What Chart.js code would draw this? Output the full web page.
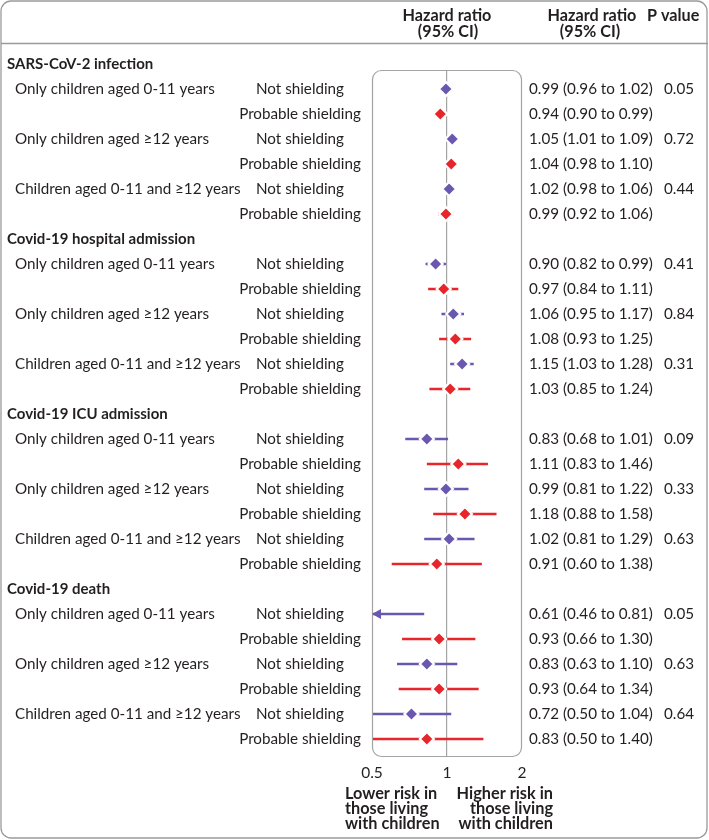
<!DOCTYPE html>
<html><head><meta charset="utf-8">
<script src="https://cdn.jsdelivr.net/npm/chart.js@4.4.1/dist/chart.umd.min.js"></script>
<style>html,body{margin:0;padding:0;background:#fff}#wrap{width:709px;height:840px;position:relative}</style>
</head><body><div id="wrap"><canvas id="c" width="709" height="840"></canvas></div>
<script>
// ---- data ----
const outcomes = ['SARS-CoV-2 infection', 'Covid-19 hospital admission', 'Covid-19 ICU admission', 'Covid-19 death'];
const groups = ['Only children aged 0-11 years', 'Only children aged \u226512 years', 'Children aged 0-11 and \u226512 years'];
const shielding = ['Not shielding', 'Probable shielding'];
const hr     = [0.99, 0.94, 1.05, 1.04, 1.02, 0.99,  0.90, 0.97, 1.06, 1.08, 1.15, 1.03,  0.83, 1.11, 0.99, 1.18, 1.02, 0.91,  0.61, 0.93, 0.83, 0.93, 0.72, 0.83];
const ciLow  = [0.96, 0.90, 1.01, 0.98, 0.98, 0.92,  0.82, 0.84, 0.95, 0.93, 1.03, 0.85,  0.68, 0.83, 0.81, 0.88, 0.81, 0.60,  0.46, 0.66, 0.63, 0.64, 0.50, 0.50];
const ciHigh = [1.02, 0.99, 1.09, 1.10, 1.06, 1.06,  0.99, 1.11, 1.17, 1.25, 1.28, 1.24,  1.01, 1.46, 1.22, 1.58, 1.29, 1.38,  0.81, 1.30, 1.10, 1.34, 1.04, 1.40];
const pValues = ['0.05', '0.72', '0.44',  '0.41', '0.84', '0.31',  '0.09', '0.33', '0.63',  '0.05', '0.63', '0.64'];
const xTicks = [0.5, 1, 2];

const PURPLE = '#6a58b0', RED = '#e6262b', TXT = '#231f20', GREY = '#a3a3a3';
const X_MIN = 0.5, X_MAX = 2;
const FONT = 'Lato';

// rows: index 0 heading, then 6 data rows per outcome
function rowOf(i) { const o = Math.floor(i / 6), k = i % 6; return o * 7 + 1 + k; }

function build() {
  const diam = [[], []], lines = [[], []], radii = [[], []];
  hr.forEach((v, i) => {
    const s = i % 2, r = rowOf(i);
    diam[s].push({ x: v, y: r });
    radii[s].push(ciLow[i] < X_MIN ? 0 : 7);
    lines[s].push({ x: Math.max(ciLow[i], X_MIN), y: r }, { x: Math.min(ciHigh[i], X_MAX), y: r }, { x: null, y: null });
  });
  const cols = [PURPLE, RED];
  const ds = [];
  [0, 1].forEach(s => ds.push({
    type: 'scatter', data: diam[s], pointStyle: 'rectRot', pointRadius: radii[s],
    backgroundColor: cols[s], borderColor: '#fff', pointBorderWidth: 2.2, borderWidth: 2.2
  }));
  [0, 1].forEach(s => ds.push({
    type: 'scatter', data: lines[s], showLine: true, spanGaps: false, pointRadius: 0,
    borderColor: cols[s], borderWidth: 2.3
  }));
  return ds;
}

function rr(ctx, x, y, w, h, r) {
  ctx.beginPath();
  ctx.moveTo(x + r, y); ctx.lineTo(x + w - r, y); ctx.arcTo(x + w, y, x + w, y + r, r);
  ctx.lineTo(x + w, y + h - r); ctx.arcTo(x + w, y + h, x + w - r, y + h, r);
  ctx.lineTo(x + r, y + h); ctx.arcTo(x, y + h, x, y + h - r, r);
  ctx.lineTo(x, y + r); ctx.arcTo(x, y, x + r, y, r); ctx.closePath();
}

const deco = {
  id: 'deco',
  beforeDraw(chart) {
    const ctx = chart.ctx;
    ctx.save();
    ctx.fillStyle = '#fff'; ctx.fillRect(0, 0, chart.width, chart.height);
    ctx.strokeStyle = '#9a9a9a'; ctx.lineWidth = 1.3;
    rr(ctx, 1, 1, 706, 837, 10); ctx.stroke();
    ctx.beginPath(); ctx.moveTo(1, 43.5); ctx.lineTo(708, 43.5); ctx.stroke();
    ctx.restore();
  },
  afterDatasetsDraw(chart) {
    const ctx = chart.ctx, a = chart.chartArea, xs = chart.scales.x, ys = chart.scales.y;
    ctx.save();
    ctx.strokeStyle = GREY; ctx.lineWidth = 1.2;
    rr(ctx, a.left + 0.5, a.top + 0.5, a.right - a.left - 1, a.bottom - a.top - 1, 9); ctx.stroke();
    // arrows for CIs beyond axis
    hr.forEach((v, i) => {
      if (ciLow[i] < X_MIN) {
        const px = xs.getPixelForValue(X_MIN), py = ys.getPixelForValue(rowOf(i));
        ctx.fillStyle = i % 2 ? RED : PURPLE;
        ctx.beginPath(); ctx.moveTo(px, py); ctx.lineTo(px + 9, py - 5); ctx.lineTo(px + 9, py + 5); ctx.closePath(); ctx.fill();
      }
    });
    ctx.restore();
  },
  afterDraw(chart) {
    const ctx = chart.ctx, ys = chart.scales.y;
    ctx.save();
    ctx.fillStyle = TXT; ctx.textBaseline = 'middle';
    // header
    ctx.font = `bold 16.2px ${FONT}`;
    ctx.textAlign = 'center';
    ctx.fillText('Hazard ratio', 447, 16); ctx.fillText('(95% CI)', 448, 32);
    ctx.fillText('Hazard ratio', 592, 16); ctx.fillText('(95% CI)', 590, 32);
    ctx.textAlign = 'left'; ctx.fillText('P value', 647, 16);
    outcomes.forEach((o, oi) => {
      ctx.font = `bold 15px ${FONT}`; ctx.textAlign = 'left';
      ctx.fillText(o, 7, ys.getPixelForValue(oi * 7));
    });
    ctx.font = `15.2px ${FONT}`;
    hr.forEach((v, i) => {
      const y = ys.getPixelForValue(rowOf(i)), s = i % 2, g = Math.floor(i / 2);
      if (s === 0) {
        ctx.textAlign = 'left'; ctx.fillText(groups[g % 3], 15, y);
        ctx.fillText(pValues[g], 664, y);
      }
      ctx.textAlign = 'center'; ctx.fillText(shielding[s], 300, y);
      ctx.textAlign = 'left';
      ctx.fillText(`${v.toFixed(2)} (${ciLow[i].toFixed(2)} to ${ciHigh[i].toFixed(2)})`, 529, y);
    });
    ctx.font = `bold 16.3px ${FONT}`;
    ['Lower risk in', 'those living', 'with children'].forEach((t, k) => { ctx.textAlign = 'left'; ctx.fillText(t, 345, 794 + k * 15); });
    ['Higher risk in', 'those living', 'with children'].forEach((t, k) => { ctx.textAlign = 'right'; ctx.fillText(t, 553, 794 + k * 15); });
    ctx.restore();
  }
};

function draw() {
  new Chart(document.getElementById('c'), {
    type: 'scatter',
    data: { datasets: build() },
    options: {
      responsive: false, animation: false, devicePixelRatio: 1,
      layout: { padding: { left: 372, right: 187, top: 70, bottom: 53 } },
      plugins: { legend: { display: false }, tooltip: { enabled: false } },
      scales: {
        x: {
          type: 'logarithmic', min: X_MIN, max: X_MAX,
          afterBuildTicks: sc => { sc.ticks = xTicks.map(v => ({ value: v })); },
          afterFit: sc => { sc.height = 30; },
          grid: { drawTicks: false, lineWidth: 1.2, color: c => (c.tick && c.tick.value === 1) ? GREY : 'rgba(0,0,0,0)' },
          border: { display: false },
          ticks: { padding: 7, color: TXT, font: { family: FONT, size: 15.5 }, maxRotation: 0, autoSkip: false, callback: v => String(v) }
        },
        y: { type: 'linear', min: 0.24, max: 27.72, reverse: true, display: false }
      }
    },
    plugins: [deco]
  });
}
Promise.all([document.fonts.load(`14px ${FONT}`), document.fonts.load(`bold 14px ${FONT}`)]).then(draw, draw);
</script></body></html>
